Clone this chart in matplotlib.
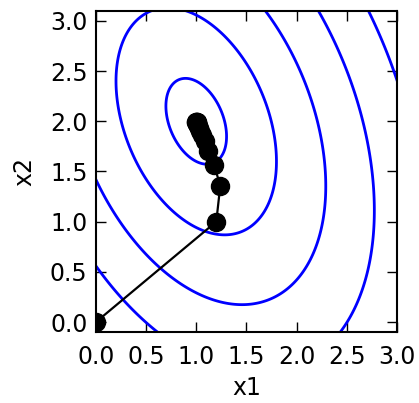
import numpy as np
import matplotlib
matplotlib.use("Agg")
import matplotlib.pyplot as plt

# quadratic bowl: f = a*(x1-c1)^2 + b*(x1-c1)*(x2-c2) + c*(x2-c2)^2
center = (1.0, 2.0)
coef_a, coef_b, coef_c = 1.0, 0.5, 0.5
levels = [0.08, 0.56, 1.46, 2.76, 4.5]

# gradient descent path
path_x1 = [0.0, 1.2, 1.24, 1.176, 1.122, 1.083, 1.057, 1.039, 1.027, 1.018,
           1.012, 1.008, 1.006, 1.004, 1.003, 1.002, 1.001]
path_x2 = [0.0, 1.0, 1.36, 1.568, 1.706, 1.799, 1.863, 1.906, 1.936, 1.956,
           1.970, 1.980, 1.986, 1.991, 1.994, 1.996, 1.997]

xticks = [0.0, 0.5, 1.0, 1.5, 2.0, 2.5, 3.0]
yticks = [0.0, 0.5, 1.0, 1.5, 2.0, 2.5, 3.0]

g1 = np.linspace(-0.2, 3.2, 400)
g2 = np.linspace(-0.3, 3.3, 400)
X1, X2 = np.meshgrid(g1, g2)
d1, d2 = X1 - center[0], X2 - center[1]
F = coef_a * d1**2 + coef_b * d1 * d2 + coef_c * d2**2

fig = plt.figure(figsize=(4.19, 4.03), dpi=100)
ax = fig.add_axes([0.229, 0.176, 0.718, 0.797])

ax.contour(X1, X2, F, levels=levels, colors='#0000ff', linewidths=2.0)
ax.plot(path_x1, path_x2, color='black', lw=1.6, marker='o', ms=13,
        mfc='black', mec='black')

ax.set_xlim(0, 3)
ax.set_ylim(-0.1, 3.1)
ax.set_xticks(xticks)
ax.set_yticks(yticks)
ax.set_xticklabels(['%.1f' % t for t in xticks])
ax.set_yticklabels(['%.1f' % t for t in yticks])
ax.tick_params(direction='in', length=7, width=1, top=True, right=True,
               labelsize=17)
ax.tick_params(axis='x', pad=9)
ax.tick_params(axis='y', pad=6)
for s in ax.spines.values():
    s.set_linewidth(1.5)

ax.set_xlabel('x1', fontsize=17, labelpad=5)
ax.set_ylabel('x2', fontsize=17, labelpad=10)

fig.savefig('out.png', dpi=100)
